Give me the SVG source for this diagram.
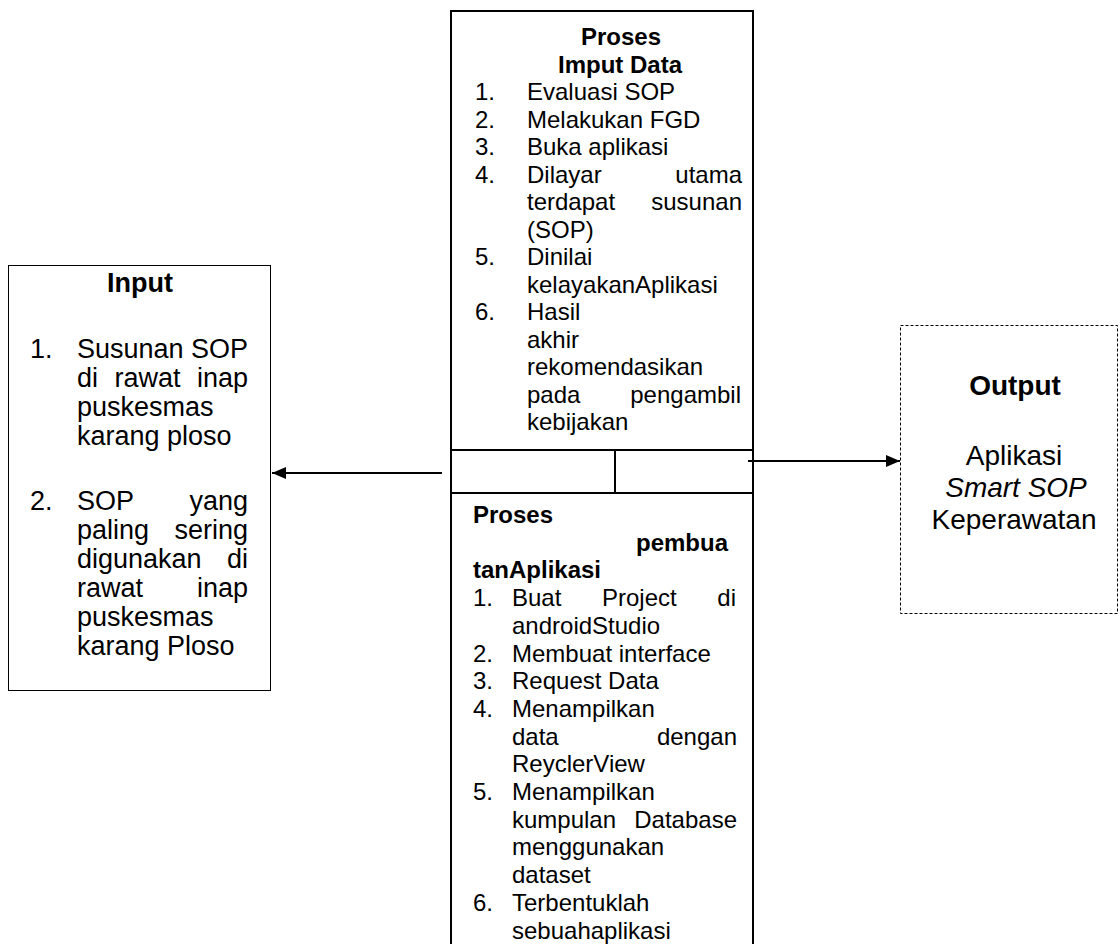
<svg xmlns="http://www.w3.org/2000/svg" width="1120" height="944" viewBox="0 0 1120 944">
<style>
text{font-family:"Liberation Sans",Arial,sans-serif;fill:#000}
.m{font-size:24px}
.l{font-size:27px}
.o{font-size:28px}
.b{font-weight:bold}
.e{text-anchor:end}
.c{text-anchor:middle}
.box{fill:#fff;stroke:#000;stroke-width:2}
.thin{fill:#fff;stroke:#000;stroke-width:1}
.dash{fill:#fff;stroke:#000;stroke-width:1;stroke-dasharray:3 2}
.con{stroke:#000;stroke-width:2;fill:none}
</style>
<defs>
<marker id="ah" markerWidth="14" markerHeight="12" refX="14" refY="6" orient="auto" markerUnits="userSpaceOnUse">
<path d="M0,0 L14,6 L0,12 Z" fill="#000"/>
</marker>
</defs>
<rect width="1120" height="944" fill="#fff"/>

<g id="input">
<rect class="thin" x="8.5" y="265.5" width="262" height="425"/>
<text class="l b c" x="140" y="292">Input</text>
<text class="l" x="30" y="357.5">1.</text>
<text class="l" x="77" y="357.5">Susunan SOP</text>
<text class="l" x="77" y="386.5">di</text>
<text class="l" x="114.5" y="386.5">rawat</text>
<text class="l e" x="248" y="386.5">inap</text>
<text class="l" x="77" y="415.5">puskesmas</text>
<text class="l" x="77" y="444.5">karang ploso</text>
<text class="l" x="30" y="509.5">2.</text>
<text class="l" x="77" y="509.5">SOP</text>
<text class="l e" x="248" y="509.5">yang</text>
<text class="l" x="77" y="538.5">paling</text>
<text class="l e" x="248" y="538.5">sering</text>
<text class="l" x="77" y="567.5">digunakan</text>
<text class="l e" x="248" y="567.5">di</text>
<text class="l" x="77" y="596.5">rawat</text>
<text class="l e" x="248" y="596.5">inap</text>
<text class="l" x="77" y="625.5">puskesmas</text>
<text class="l" x="77" y="654.5">karang Ploso</text>
</g>

<g id="proses">
<rect class="box" x="451" y="11" width="302" height="960"/>
<line class="con" x1="451" y1="450" x2="753" y2="450"/>
<line class="con" x1="451" y1="493" x2="753" y2="493"/>
<line class="con" x1="615" y1="450" x2="615" y2="493"/>
<text class="m b c" x="621" y="45">Proses</text>
<text class="m b c" x="620" y="72.5">Imput Data</text>
<text class="m" x="475" y="100">1.</text>
<text class="m" x="527" y="100">Evaluasi SOP</text>
<text class="m" x="475" y="127.5">2.</text>
<text class="m" x="527" y="127.5">Melakukan FGD</text>
<text class="m" x="475" y="155">3.</text>
<text class="m" x="527" y="155">Buka aplikasi</text>
<text class="m" x="475" y="182.5">4.</text>
<text class="m" x="527" y="182.5">Dilayar</text>
<text class="m e" x="742" y="182.5">utama</text>
<text class="m" x="527" y="210">terdapat</text>
<text class="m e" x="742" y="210">susunan</text>
<text class="m" x="527" y="237.5">(SOP)</text>
<text class="m" x="475" y="265">5.</text>
<text class="m" x="527" y="265">Dinilai</text>
<text class="m" x="527" y="292.5">kelayakanAplikasi</text>
<text class="m" x="475" y="320">6.</text>
<text class="m" x="527" y="320">Hasil</text>
<text class="m" x="527" y="347.5">akhir</text>
<text class="m" x="527" y="375">rekomendasikan</text>
<text class="m" x="527" y="402.5">pada</text>
<text class="m e" x="741" y="402.5">pengambil</text>
<text class="m" x="527" y="430">kebijakan</text>
</g>

<g id="pembuatan">
<text class="m b" x="473" y="523">Proses</text>
<text class="m b e" x="728" y="550.7">pembua</text>
<text class="m b" x="473" y="578.4">tanAplikasi</text>
<text class="m" x="473" y="606.1">1.</text>
<text class="m" x="512" y="606.1">Buat</text>
<text class="m" x="602" y="606.1">Project</text>
<text class="m e" x="736" y="606.1">di</text>
<text class="m" x="512" y="633.8">androidStudio</text>
<text class="m" x="473" y="661.5">2.</text>
<text class="m" x="512" y="661.5">Membuat interface</text>
<text class="m" x="473" y="689.2">3.</text>
<text class="m" x="512" y="689.2">Request Data</text>
<text class="m" x="473" y="716.9">4.</text>
<text class="m" x="512" y="716.9">Menampilkan</text>
<text class="m" x="512" y="744.6">data</text>
<text class="m e" x="737" y="744.6">dengan</text>
<text class="m" x="512" y="772.3">ReyclerView</text>
<text class="m" x="473" y="800">5.</text>
<text class="m" x="512" y="800">Menampilkan</text>
<text class="m" x="512" y="827.7">kumpulan</text>
<text class="m e" x="737" y="827.7">Database</text>
<text class="m" x="512" y="855.4">menggunakan</text>
<text class="m" x="512" y="883.1">dataset</text>
<text class="m" x="473" y="910.8">6.</text>
<text class="m" x="512" y="910.8">Terbentuklah</text>
<text class="m" x="512" y="938.5">sebuahaplikasi</text>
</g>

<g id="output">
<rect class="dash" x="900.5" y="325.5" width="217" height="288"/>
<text class="o b c" x="1015" y="395">Output</text>
<text class="o c" x="1014" y="465">Aplikasi</text>
<text class="o c" x="1016" y="497" font-style="italic">Smart SOP</text>
<text class="o c" x="1014" y="529">Keperawatan</text>
</g>

<g id="connectors">
<line class="con" x1="442" y1="473" x2="272" y2="473" marker-end="url(#ah)"/>
<line class="con" x1="748" y1="461" x2="900" y2="461" marker-end="url(#ah)"/>
</g>
</svg>
